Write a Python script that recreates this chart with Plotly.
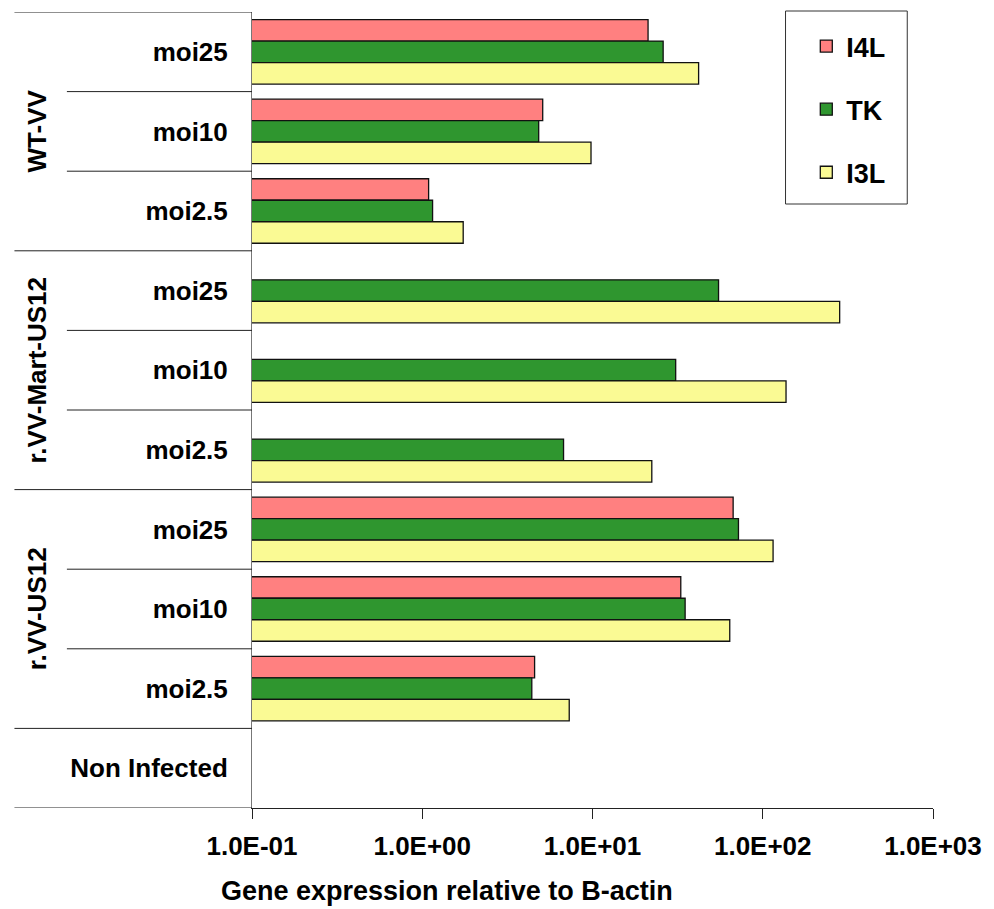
import plotly.graph_objects as go

# ---- data (top -> bottom) ----
row_keys = ["WT-VV|moi25", "WT-VV|moi10", "WT-VV|moi2.5",
            "Mart|moi25", "Mart|moi10", "Mart|moi2.5",
            "US12|moi25", "US12|moi10", "US12|moi2.5",
            "Non Infected"]
row_labels = ["moi25", "moi10", "moi2.5",
              "moi25", "moi10", "moi2.5",
              "moi25", "moi10", "moi2.5",
              "Non Infected"]
group_names = ["WT-VV", "r.VV-Mart-US12", "r.VV-US12"]
group_mid_rows = ["WT-VV|moi10", "Mart|moi10", "US12|moi10"]

series_names = ["I4L", "TK", "I3L"]
i4l = [21.2, 5.1, 1.09, None, None, None, 67, 33, 4.57, None]
tk = [26, 4.83, 1.15, 55, 30.8, 6.76, 72, 35, 4.40, None]
i3l = [42, 9.8, 1.74, 283, 137, 22.3, 115, 64, 7.3, None]
series_values = [i4l, tk, i3l]
series_colors = ["#FF8080", "#2F962F", "#FAFA94"]

tick_vals = [0.1, 1, 10, 100, 1000]
tick_text = ["1.0E-01", "1.0E+00", "1.0E+01", "1.0E+02", "1.0E+03"]

FONT = "Liberation Sans, Arial, sans-serif"

fig = go.Figure()
for name, vals, col in zip(series_names, series_values, series_colors):
    fig.add_trace(go.Bar(
        y=row_keys, x=vals, name=name, orientation="h",
        legendgroup=name,
        marker=dict(color=col, line=dict(color="#111111", width=1.3)),
    ))

# plot area in px
W, H = 994, 909
L, RM, T, B = 252, 48, 12, 808
R = W - RM
pw, ph = R - L, B - T


def px_x(x):
    # x given in reference pixels (plot spans 252..940 there)
    return (x - L) / 688


def px_y(y):
    return (B - y) / ph


shapes = []
# divider lines
for i in range(-1, 10):
    yv = i + 0.5
    full = i in (-1, 2, 5, 8, 9)
    x0 = px_x(12) if full else px_x(65)
    shapes.append(dict(type="line", xref="paper", yref="y", x0=x0, x1=0,
                       y0=yv, y1=yv, line=dict(color="#222222", width=1)))
# legend box
shapes.append(dict(type="rect", xref="paper", yref="paper",
                   x0=px_x(791), x1=px_x(914), y0=px_y(204), y1=px_y(11),
                   line=dict(color="#333333", width=1), fillcolor="rgba(0,0,0,0)"))

annotations = []
for g, r in zip(group_names, group_mid_rows):
    annotations.append(dict(text=g, xref="paper", yref="y", x=px_x(35), y=r,
                            showarrow=False, textangle=-90,
                            font=dict(family=FONT, size=26, color="black"),
                            xanchor="center", yanchor="middle"))
annotations.append(dict(text="Gene expression relative to B-actin",
                        xref="paper", yref="paper", x=px_x(449), y=px_y(891),
                        showarrow=False, xanchor="center", yanchor="middle",
                        font=dict(family=FONT, size=27, color="black")))

fig.update_layout(
    width=W, height=H, autosize=False,
    margin=dict(l=L, r=RM, t=T, b=H - B, pad=0),
    paper_bgcolor="white", plot_bgcolor="white",
    barmode="group", bargap=0.19, bargroupgap=0,
    font=dict(family=FONT, color="black", size=24, weight="bold"),
    showlegend=True,
    legend=dict(x=px_x(812), y=px_y(22), xanchor="left", yanchor="top",
                bgcolor="rgba(0,0,0,0)", borderwidth=0,
                traceorder="grouped", tracegroupgap=25,
                font=dict(family=FONT, size=27, color="black", weight="bold")),
    shapes=shapes, annotations=annotations,
)
fig.update_xaxes(type="log", range=[-1, 3], tickvals=tick_vals, ticktext=tick_text,
                 showgrid=False, zeroline=False, showline=True, linecolor="#222222",
                 linewidth=1, ticks="outside", ticklen=10, tickcolor="#222222",
                 tickfont=dict(family=FONT, size=26, color="black", weight="bold"),
                 ticklabelstandoff=5, ticklabeloverflow="allow")
fig.update_yaxes(type="category", categoryorder="array", categoryarray=row_keys,
                 range=[9.5, -0.5], tickvals=row_keys, ticktext=row_labels,
                 showgrid=False, zeroline=False, showline=True, linecolor="#777777",
                 linewidth=1, ticks="", ticklabelstandoff=18,
                 tickfont=dict(family=FONT, size=26, color="black", weight="bold"))

fig.write_html(
    "out.html",
    config={"responsive": False, "displayModeBar": False},
    post_script="document.body.style.margin='0';document.body.style.overflow='hidden';",
)
